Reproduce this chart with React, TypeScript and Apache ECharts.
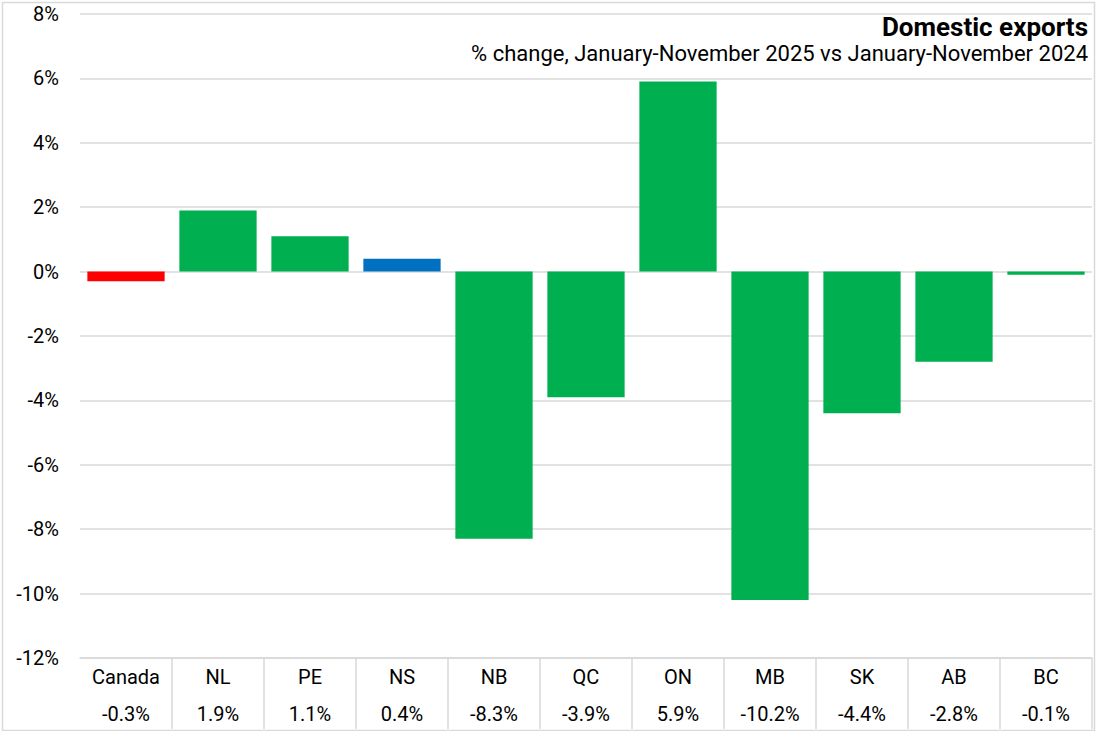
import React, { useEffect, useRef } from "react";
import * as echarts from "echarts";

const categories = ["Canada", "NL", "PE", "NS", "NB", "QC", "ON", "MB", "SK", "AB", "BC"];
const values = [-0.3, 1.9, 1.1, 0.4, -8.3, -3.9, 5.9, -10.2, -4.4, -2.8, -0.1];
const yTicks = { min: -12, max: 8, interval: 2 };
const titleText = "Domestic exports";
const subtitleText = "% change, January-November 2025 vs January-November 2024";

const GREEN = "#00B050";
const specialColors: Record<string, string> = { Canada: "#FF0000", NS: "#0070C0" };
const GRID = "#D9D9D9";
const FONT = "Roboto";

export default function App() {
  const ref = useRef<HTMLDivElement>(null);
  useEffect(() => {
    document.body.style.margin = "0";
    if (!ref.current) return;
    const chart = echarts.init(ref.current, undefined, { renderer: "svg" });
    chart.setOption({
      animation: false,
      textStyle: { fontFamily: FONT },
      graphic: [
        {
          type: "rect",
          left: 0,
          top: 0,
          shape: { x: 1, y: 1, width: 1092, height: 728 },
          style: { fill: "none", stroke: GRID, lineWidth: 1.5 },
          silent: true,
        },
        {
          type: "text",
          x: 1088,
          y: 27,
          silent: true,
          style: {
            text: titleText,
            align: "right",
            verticalAlign: "middle",
            fill: "#000",
            font: `bold 26px ${FONT}`,
          },
        },
        {
          type: "text",
          x: 1088,
          y: 53,
          silent: true,
          style: {
            text: subtitleText,
            align: "right",
            verticalAlign: "middle",
            fill: "#000",
            font: `22px ${FONT}`,
          },
        },
      ],
      grid: { left: 80, right: 4, top: 14, bottom: 73, containLabel: false },
      xAxis: {
        type: "category",
        data: categories,
        boundaryGap: true,
        axisLine: { show: true, onZero: false, lineStyle: { color: GRID, width: 1.5 } },
        axisTick: {
          show: true,
          length: 71,
          interval: (i: number) => i !== 0,
          lineStyle: { color: GRID, width: 1.5 },
        },
        axisLabel: {
          interval: 0,
          margin: 0,
          formatter: (v: string, i: number) => `{a|${v}}\n{b|${values[i].toFixed(1)}%}`,
          rich: {
            a: { fontSize: 20, lineHeight: 37, color: "#000", fontFamily: FONT },
            b: { fontSize: 20, lineHeight: 37, color: "#000", fontFamily: FONT },
          },
        },
      },
      yAxis: {
        type: "value",
        min: yTicks.min,
        max: yTicks.max,
        interval: yTicks.interval,
        axisLine: { show: false },
        axisTick: { show: false },
        splitLine: { lineStyle: { color: GRID, width: 1.5 } },
        axisLabel: {
          margin: 21,
          fontSize: 20,
          color: "#000",
          fontFamily: FONT,
          formatter: (v: number) => `${v}%`,
        },
      },
      series: [
        {
          type: "bar",
          barCategoryGap: "16%",
          data: values.map((v, i) => ({
            value: v,
            itemStyle: { color: specialColors[categories[i]] || GREEN },
          })),
        },
      ],
    });
    return () => chart.dispose();
  }, []);
  return <div ref={ref} style={{ width: 1096, height: 731 }} />;
}
